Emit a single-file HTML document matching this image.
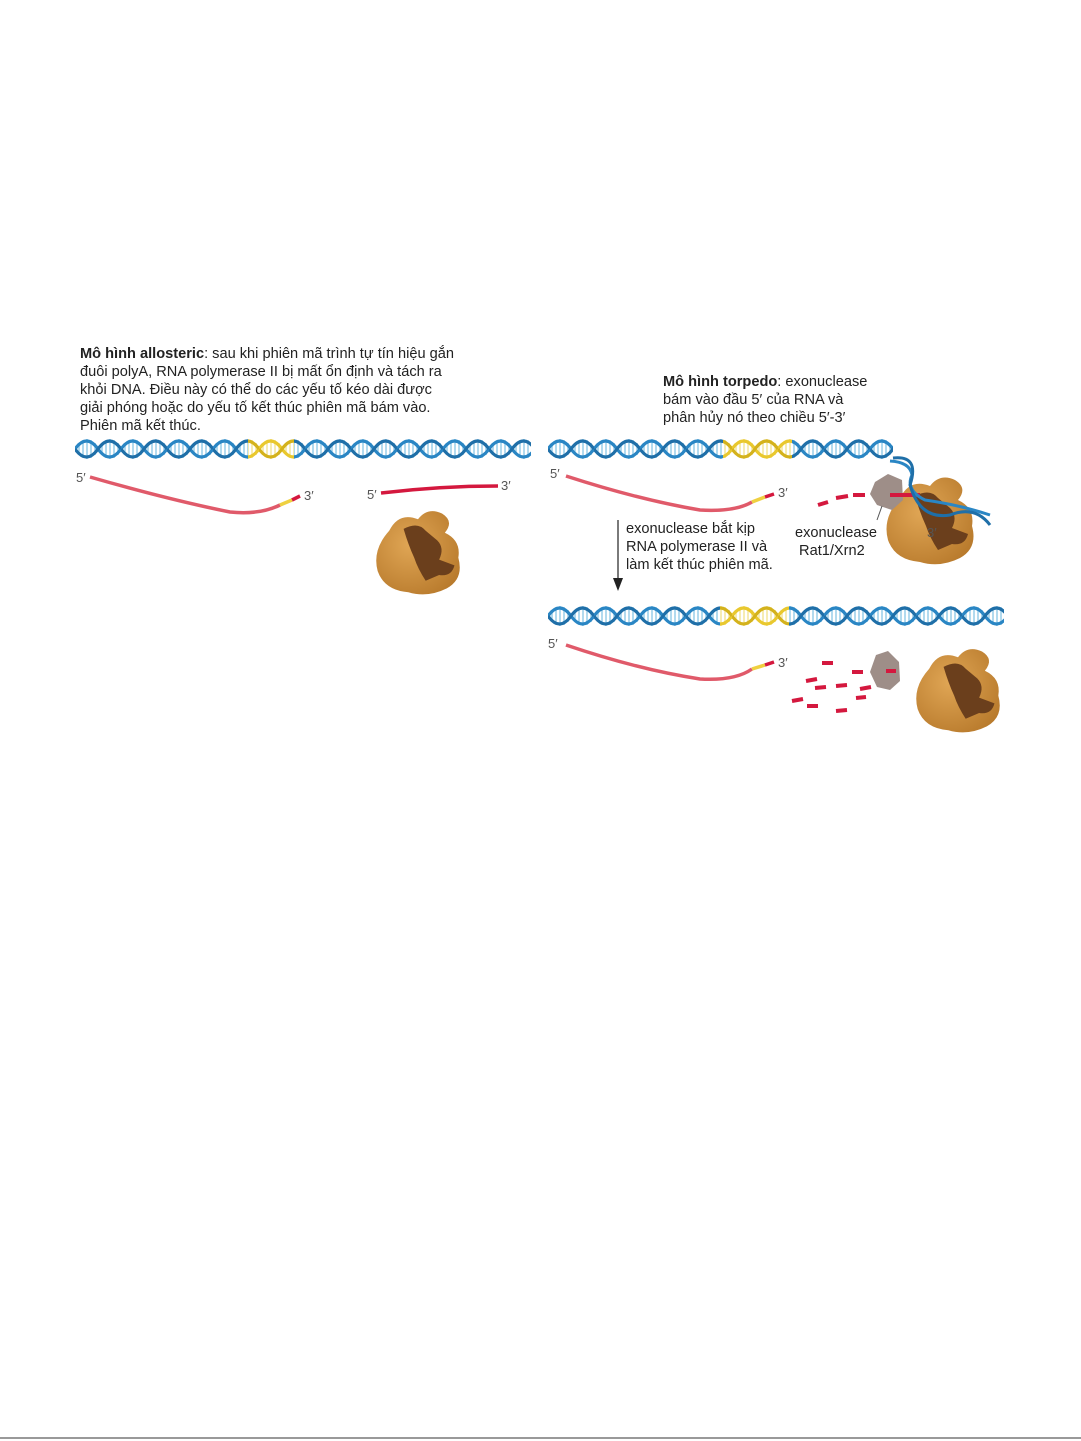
<!DOCTYPE html>
<html><head><meta charset="utf-8"><style>
body{margin:0;background:#fff;width:1081px;height:1441px;position:relative;overflow:hidden;font-family:"Liberation Sans","DejaVu Sans",sans-serif;color:#222}
.t{position:absolute;font-size:14.6px;line-height:18px;white-space:nowrap}
</style></head><body>
<svg width="1081" height="1441" style="position:absolute;left:0;top:0">
<defs>
<g id="tileB">
 <g stroke="#9fd0ea" stroke-width="1.6"><line x1="4" y1="6" x2="4" y2="18"/><line x1="8" y1="3" x2="8" y2="21"/><line x1="12" y1="2" x2="12" y2="22"/><line x1="16" y1="3" x2="16" y2="21"/><line x1="20" y1="6" x2="20" y2="18"/><line x1="27" y1="6" x2="27" y2="18"/><line x1="31" y1="3" x2="31" y2="21"/><line x1="35" y1="2" x2="35" y2="22"/><line x1="39" y1="3" x2="39" y2="21"/><line x1="43" y1="6" x2="43" y2="18"/></g>
 <path d="M0 12 Q11.5 -4 23 12 Q34.5 28 46 12" fill="none" stroke="#2a86c4" stroke-width="3.2"/>
 <path d="M0 12 Q11.5 28 23 12 Q34.5 -4 46 12" fill="none" stroke="#1f6fa8" stroke-width="3.2"/>
</g>
<g id="tileY">
 <g stroke="#f3e7a0" stroke-width="1.6"><line x1="4" y1="6" x2="4" y2="18"/><line x1="8" y1="3" x2="8" y2="21"/><line x1="12" y1="2" x2="12" y2="22"/><line x1="16" y1="3" x2="16" y2="21"/><line x1="20" y1="6" x2="20" y2="18"/><line x1="27" y1="6" x2="27" y2="18"/><line x1="31" y1="3" x2="31" y2="21"/><line x1="35" y1="2" x2="35" y2="22"/><line x1="39" y1="3" x2="39" y2="21"/><line x1="43" y1="6" x2="43" y2="18"/></g>
 <path d="M0 12 Q11.5 -4 23 12 Q34.5 28 46 12" fill="none" stroke="#e9c82e" stroke-width="3.2"/>
 <path d="M0 12 Q11.5 28 23 12 Q34.5 -4 46 12" fill="none" stroke="#d4b21c" stroke-width="3.2"/>
</g>
<pattern id="hb" width="46" height="24" patternUnits="userSpaceOnUse" x="75" y="437"><use href="#tileB"/></pattern>
<pattern id="hy" width="46" height="24" patternUnits="userSpaceOnUse" x="75" y="437"><use href="#tileY"/></pattern>
<pattern id="hb2" width="46" height="24" patternUnits="userSpaceOnUse" x="548" y="604"><use href="#tileB"/></pattern>
<pattern id="hy2" width="46" height="24" patternUnits="userSpaceOnUse" x="548" y="604"><use href="#tileY"/></pattern>
<pattern id="hb3" width="46" height="24" patternUnits="userSpaceOnUse" x="548" y="437"><use href="#tileB"/></pattern>
<pattern id="hy3" width="46" height="24" patternUnits="userSpaceOnUse" x="548" y="437"><use href="#tileY"/></pattern>
<radialGradient id="pg" cx="40%" cy="40%" r="70%"><stop offset="0" stop-color="#e0a655"/><stop offset="1" stop-color="#b87a2c"/></radialGradient>
<symbol id="pol" viewBox="0 0 100 100">
 <path d="M20 30 Q30 10 50 18 Q60 5 75 12 Q88 20 78 32 Q95 40 92 58 Q98 80 80 90 Q60 100 40 94 Q15 92 8 72 Q2 50 20 30Z" fill="url(#pg)"/>
 <path d="M35 28 Q50 20 58 30 L70 40 Q78 48 72 60 L88 66 Q85 78 72 76 L58 82 Q50 70 46 58 Q40 45 35 28Z" fill="#6b3f1c"/>
</symbol>
</defs>
<rect x="75" y="437" width="456" height="24" fill="url(#hb)"/>
<rect x="248" y="437" width="46" height="24" fill="#fff"/>
<rect x="248" y="437" width="46" height="24" fill="url(#hy)"/>
<rect x="548" y="437" width="345" height="24" fill="url(#hb3)"/>
<rect x="723" y="437" width="69" height="24" fill="#fff"/>
<rect x="723" y="437" width="69" height="24" fill="url(#hy3)"/>
<rect x="548" y="604" width="456" height="24" fill="url(#hb2)"/>
<rect x="720" y="604" width="69" height="24" fill="#fff"/>
<rect x="720" y="604" width="69" height="24" fill="url(#hy2)"/>

<path d="M90 477 Q170 500 230 512 Q260 515 280 505" fill="none" stroke="#e05a6a" stroke-width="3.5"/>
<path d="M280 505 L292 500" stroke="#efd040" stroke-width="3.5"/>
<path d="M292 500 L300 496" stroke="#d4183e" stroke-width="3.5"/>
<text x="76" y="482" font-size="13" fill="#555">5′</text>
<text x="304" y="500" font-size="13" fill="#555">3′</text>
<path d="M381 493 Q440 486 498 486" fill="none" stroke="#d4183e" stroke-width="3.5"/>
<text x="367" y="499" font-size="13" fill="#555">5′</text>
<text x="501" y="490" font-size="13" fill="#555">3′</text>
<use href="#pol" x="362" y="502" width="112" height="96"/>

<path d="M566 476 Q640 500 700 510 Q735 512 752 502" fill="none" stroke="#e05a6a" stroke-width="3.5"/>
<path d="M752 502 L765 497" stroke="#efd040" stroke-width="3.5"/>
<path d="M765 497 L774 494" stroke="#d4183e" stroke-width="3.5"/>
<text x="550" y="478" font-size="13" fill="#555">5′</text>
<text x="778" y="497" font-size="13" fill="#555">3′</text>
<g stroke="#d4183e" stroke-width="4"><line x1="818" y1="505" x2="828" y2="502"/><line x1="836" y1="498" x2="848" y2="496"/><line x1="853" y1="495" x2="865" y2="495"/></g>
<use href="#pol" x="872" y="468" width="116" height="100"/>
<polygon points="875,482 888,474 902,480 903,500 892,510 877,505 870,494" fill="#9e8e88"/>
<line x1="890" y1="495" x2="920" y2="495" stroke="#d4183e" stroke-width="4"/>
<path d="M890 461 Q910 462 912 475 Q905 490 925 500 Q960 505 990 515" fill="none" stroke="#2a86c4" stroke-width="3"/>
<path d="M893 458 Q920 455 910 485 Q920 520 950 515 Q975 505 990 525" fill="none" stroke="#1f6fa8" stroke-width="3"/>
<line x1="882" y1="506" x2="877" y2="520" stroke="#555" stroke-width="1"/>
<text x="927" y="537" font-size="13" fill="#555">3′</text>

<line x1="618" y1="520" x2="618" y2="580" stroke="#222" stroke-width="1.2"/>
<polygon points="613,578 623,578 618,591" fill="#222"/>

<path d="M566 645 Q640 670 700 679 Q735 681 752 669" fill="none" stroke="#e05a6a" stroke-width="3.5"/>
<path d="M752 669 L765 665" stroke="#efd040" stroke-width="3.5"/>
<path d="M765 665 L774 662" stroke="#d4183e" stroke-width="3.5"/>
<text x="548" y="648" font-size="13" fill="#555">5′</text>
<text x="778" y="667" font-size="13" fill="#555">3′</text>
<g stroke="#d4183e" stroke-width="4">
<line x1="822" y1="663" x2="833" y2="663"/><line x1="852" y1="672" x2="863" y2="672"/>
<line x1="806" y1="681" x2="817" y2="679"/><line x1="836" y1="686" x2="847" y2="685"/><line x1="860" y1="689" x2="871" y2="687"/>
<line x1="815" y1="688" x2="826" y2="687"/><line x1="792" y1="701" x2="803" y2="699"/><line x1="856" y1="698" x2="866" y2="697"/>
<line x1="807" y1="706" x2="818" y2="706"/><line x1="836" y1="711" x2="847" y2="710"/></g>
<polygon points="876,655 888,651 899,662 900,681 890,690 877,687 870,672" fill="#9e8e88"/>
<line x1="886" y1="671" x2="896" y2="671" stroke="#d4183e" stroke-width="4"/>
<use href="#pol" x="902" y="640" width="112" height="96"/>
<line x1="0" y1="1438" x2="1081" y2="1438" stroke="#333" stroke-width="1"/>
</svg>
<div class="t" style="left:80px;top:345px"><b>Mô hình allosteric</b>: sau khi phiên mã trình tự tín hiệu gắn<br>đuôi polyA, RNA polymerase II bị mất ổn định và tách ra<br>khỏi DNA. Điều này có thể do các yếu tố kéo dài được<br>giải phóng hoặc do yếu tố kết thúc phiên mã bám vào.<br>Phiên mã kết thúc.</div>
<div class="t" style="left:663px;top:373px"><b>Mô hình torpedo</b>: exonuclease<br>bám vào đầu 5′ của RNA và<br>phân hủy nó theo chiều 5′-3′</div>
<div class="t" style="left:626px;top:520px">exonuclease bắt kịp<br>RNA polymerase II và<br>làm kết thúc phiên mã.</div>
<div class="t" style="left:795px;top:524px">exonuclease<br>&nbsp;Rat1/Xrn2</div>
</body></html>
